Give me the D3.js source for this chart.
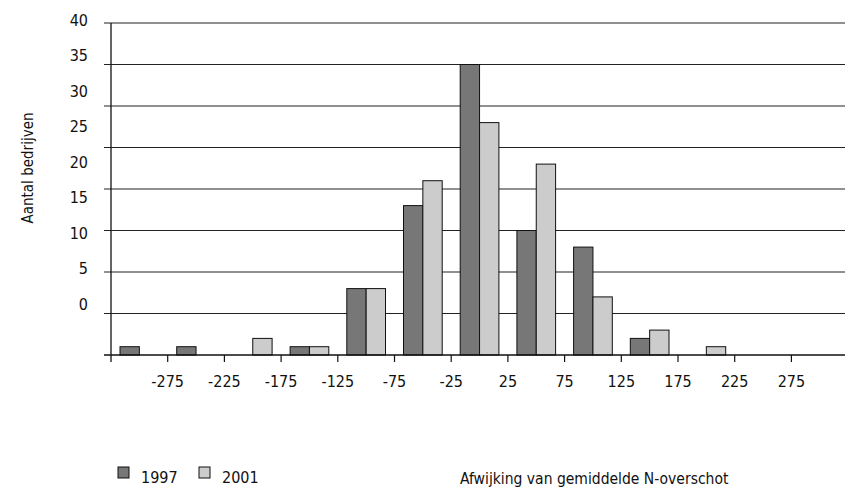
<!DOCTYPE html>
<html><head><meta charset="utf-8">
<script src="https://cdn.jsdelivr.net/npm/d3@7"></script>
<style>
body{margin:0;background:#fff;}
text{font-family:"DejaVu Sans Condensed","Liberation Sans Narrow","Open Sans",sans-serif;fill:#111;}
</style></head>
<body><svg id="c" width="845" height="489"></svg>
<script>
const categories = [-300,-250,-200,-150,-100,-50,0,50,100,150,200,250,300];
const series1997 = [1,1,0,1,8,18,35,15,13,2,0,0,0];
const series2001 = [0,0,2,1,8,21,28,23,7,3,1,0,0];
const seriesNames = ["1997","2001"];
const xTickLabels = [-275,-225,-175,-125,-75,-25,25,75,125,175,225,275];
const yTickLabels = [0,5,10,15,20,25,30,35,40];
const yTitle = "Aantal bedrijven";
const xTitle = "Afwijking van gemiddelde N-overschot";
const colors = ["#777777","#cccccc"];

(function(){
const svg = d3.select("#c");
const pLeft = 111, pTop = 23, pBottom = 355;
const bandW = 56.7;
const pRight = pLeft + bandW*categories.length;

const x = d3.scaleBand().domain(categories).range([pLeft, pRight]).paddingInner(0).paddingOuter(0);
const inner = d3.scaleBand().domain(seriesNames).range([9, bandW-9]);
const y = d3.scaleLinear().domain([0,40]).range([pBottom, pTop]);
const yLab = d3.scaleLinear().domain([0,40]).range([304, 20]);
const xTick = d3.scaleLinear().domain([-325, 325]).range([pLeft, pRight]);

// gridlines
svg.append("g").selectAll("line").data(d3.range(5,45,5)).join("line")
  .attr("x1", pLeft-7).attr("x2", 845).attr("y1", d=>y(d)).attr("y2", d=>y(d))
  .attr("stroke","#222").attr("stroke-width",1.1);

// bars
const data = categories.map((c,i)=>({c, vals:[series1997[i], series2001[i]]}));
const g = svg.append("g");
data.forEach(d=>{
  d.vals.forEach((v,j)=>{
    if(v<=0) return;
    g.append("rect")
      .attr("x", x(d.c)+inner(seriesNames[j]))
      .attr("y", y(v))
      .attr("width", inner.bandwidth())
      .attr("height", y(0)-y(v))
      .attr("fill", colors[j]).attr("stroke","#111").attr("stroke-width",1);
  });
});

// axes
svg.append("line").attr("x1", pLeft-7).attr("x2", 845).attr("y1", pBottom).attr("y2", pBottom)
  .attr("stroke","#111").attr("stroke-width",1.3);
svg.append("line").attr("x1", pLeft).attr("x2", pLeft).attr("y1", pTop).attr("y2", pBottom+7)
  .attr("stroke","#111").attr("stroke-width",1.3);
svg.append("g").selectAll("line").data(xTickLabels).join("line")
  .attr("x1", d=>xTick(d)).attr("x2", d=>xTick(d)).attr("y1", pBottom).attr("y2", pBottom+7)
  .attr("stroke","#111").attr("stroke-width",1.2);
svg.append("g").selectAll("text").data(xTickLabels).join("text")
  .attr("x", d=>xTick(d)).attr("y", 387).attr("text-anchor","middle")
  .attr("font-size",16).text(d=>d);

// y labels
svg.append("g").selectAll("text").data(yTickLabels).join("text")
  .attr("x", 88).attr("y", d=>yLab(d)+5.8).attr("text-anchor","end")
  .attr("font-size",16).text(d=>d);

// y title
svg.append("text").attr("transform","translate(33,168) rotate(-90)")
  .attr("text-anchor","middle").attr("font-size",15).text(yTitle);

// legend
const legX = [118, 199];
seriesNames.forEach((n,i)=>{
  const lx = legX[i];
  svg.append("rect").attr("x", lx).attr("y", 467).attr("width",11).attr("height",11)
    .attr("fill", colors[i]).attr("stroke","#111").attr("stroke-width",1);
  svg.append("text").attr("x", lx+23).attr("y", 483).attr("font-size",16).text(n);
});
svg.append("text").attr("x", 460).attr("y", 484).attr("font-size",15.5).text(xTitle);
})();
</script></body></html>
